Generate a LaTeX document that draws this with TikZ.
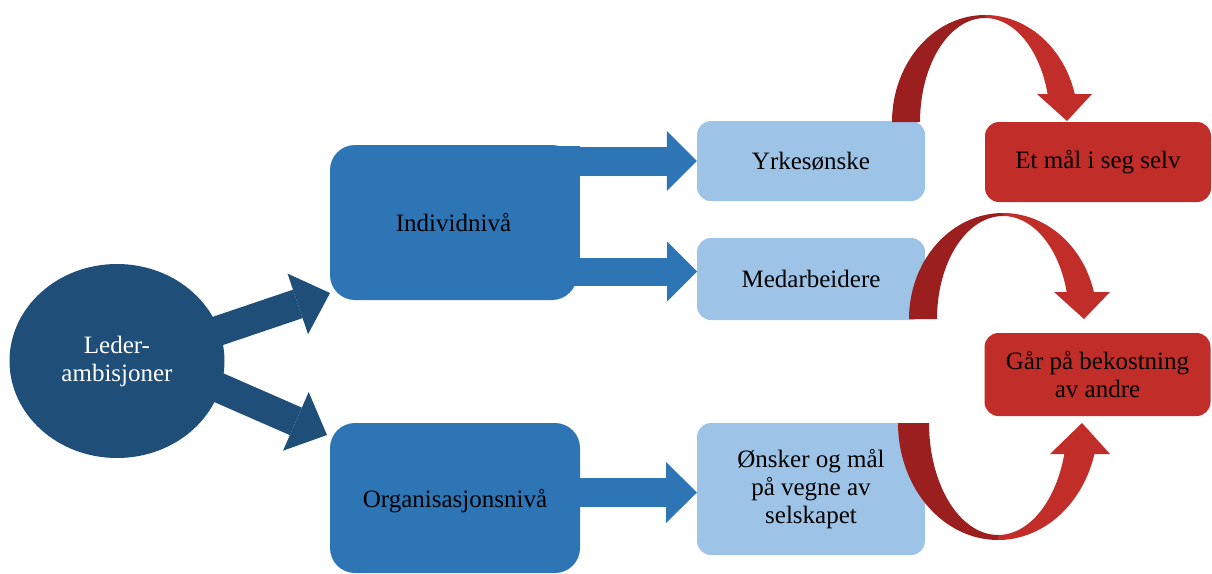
\documentclass[tikz,border=0pt]{standalone}
\usepackage{fontspec}
\setmainfont{Liberation Serif}
\usetikzlibrary{shapes.geometric,arrows.meta}
\definecolor{cdark}{HTML}{1F4E79}
\definecolor{cmid}{HTML}{2E75B6}
\definecolor{clight}{HTML}{9DC3E6}
\definecolor{cred}{HTML}{C12D28}
\definecolor{cdred}{HTML}{9B1F1F}
\begin{document}
\begin{tikzpicture}[x=1pt,y=-1pt,
  every node/.style={font=\fontsize{25}{28}\selectfont, align=center, inner sep=0pt},
  leadnode/.style={ellipse, fill=cdark, text=white, minimum width=215pt, minimum height=194pt},
  midbox/.style={fill=cmid, rounded corners=25pt},
  lightbox/.style={fill=clight, rounded corners=14pt, minimum width=228pt},
  redbox/.style={fill=cred, rounded corners=14pt, minimum width=226pt},
  darr/.style={draw=cdark, line width=30pt, -{Triangle[length=34pt,width=64pt,line width=0pt]}},
  marr/.style={draw=cmid, line width=29pt, -{Triangle[length=30pt,width=60pt,line width=0pt]}},
  ribdark/.style={fill=cdred},
  riblight/.style={fill=cred}
]
\useasboundingbox (0,0) rectangle (1212,573);

% block arrows from the circle
\coordinate (s1) at (197,338);
\coordinate (t1) at (330,293);
\coordinate (s2) at (199,379);
\coordinate (t2) at (327,435);
\draw[darr] (s1) -- (t1);
\draw[darr] (s2) -- (t2);

\node[leadnode] (lead) at (117,361) {Leder-\\ambisjoner};

% level boxes
\node[midbox, minimum width=247pt, minimum height=155pt] (ind) at (453.5,222.5) {Individnivå};
\node[midbox, minimum width=250pt, minimum height=150pt, text depth=0pt] (org) at (455,498) {Organisasjonsnivå};

% light boxes
\node[lightbox, minimum height=80pt] (yrk) at (811,161) {Yrkesønske};
\node[lightbox, minimum height=82pt] (med) at (811,279) {Medarbeidere};
\node[lightbox, minimum height=132pt] (onsk) at (811,489) {Ønsker og mål\\på vegne av\\selskapet};

% red boxes
\node[redbox, minimum height=80pt] (mal) at (1098,162) {Et mål i seg selv};
\node[redbox, minimum height=83pt] (gar) at (1097.5,374.5) {Går på bekostning\\av andre};

% bracket connector from Individniva
\fill[cmid] (550,146) rectangle (580,285);
\coordinate (b1) at (565,161);
\coordinate (b2) at (565,271.5);
\coordinate (m1) at (697,271.5);
\coordinate (o1) at (575,492.5);
\coordinate (o2) at (697,492.5);
\draw[marr] (b1) -- (yrk.west);
\draw[marr, line width=28pt] (b2) -- (m1);
\draw[marr, -{Triangle[length=31pt,width=61pt,line width=0pt]}] (o1) -- (o2);

% red ribbon arrow 1 (Yrkesonske -> Et mal i seg selv)
\fill[ribdark] plot[domain=180:270,samples=40] ({985+93*cos(\x)},{122+107*sin(\x)})
  -- plot[domain=270:180,samples=40] ({985+65*cos(\x)},{122+104*sin(\x)}) -- cycle;
\fill[riblight] plot[domain=270:344.8,samples=40] ({985+93*cos(\x)},{122+107*sin(\x)})
  -- plot[domain=344.4:270,samples=40] ({985+65*cos(\x)},{122+104*sin(\x)}) -- cycle;
\fill[riblight] (1037,94) -- (1092,94) -- (1067,121) -- cycle;

% red ribbon arrow 2 (Medarbeidere -> Gar pa bekostning)
\fill[ribdark] plot[domain=180:270,samples=40] ({1003+94*cos(\x)},{319+106*sin(\x)})
  -- plot[domain=270:180,samples=40] ({1003+66*cos(\x)},{319+103*sin(\x)}) -- cycle;
\fill[riblight] plot[domain=270:345.2,samples=40] ({1003+94*cos(\x)},{319+106*sin(\x)})
  -- plot[domain=344.8:270,samples=40] ({1003+66*cos(\x)},{319+103*sin(\x)}) -- cycle;
\fill[riblight] (1054,292) -- (1110,292) -- (1084,319) -- cycle;

% red ribbon arrow 3 (Onsker -> Gar pa bekostning)
\fill[ribdark] plot[domain=180:90,samples=40] ({998+100*cos(\x)},{423+117*sin(\x)})
  -- plot[domain=90:180,samples=40] ({998+69*cos(\x)},{423+112*sin(\x)}) -- cycle;
\fill[riblight] plot[domain=90:15.4,samples=40] ({998+100*cos(\x)},{423+117*sin(\x)})
  -- plot[domain=16.1:90,samples=40] ({998+69*cos(\x)},{423+112*sin(\x)}) -- cycle;
\fill[riblight] (1050,454) -- (1110,454) -- (1082,423) -- cycle;
\end{tikzpicture}
\end{document}
